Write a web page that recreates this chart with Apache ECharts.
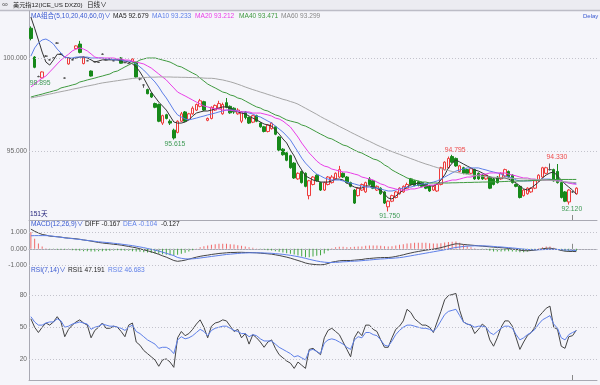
<!DOCTYPE html>
<html><head><meta charset="utf-8">
<script src="https://cdn.jsdelivr.net/npm/echarts@6/dist/echarts.min.js"></script>
<style>html,body{margin:0;padding:0;background:#f5f5fa;}#c{width:600px;height:385px;}</style>
</head><body><div id="c"></div>
<script>
const categories = Array.from({length:151},(_, i)=>'D'+(i+1));
// [open, close, low, high]
const candles = [
[101.6,101.05,100.95,101.7],[100.05,99.5,99.45,100.1],[99.0,99.0,98.97,99.05],[98.93,99.25,98.895,99.28],[100.1,100.1,100.06,100.15],
[99.9,99.9,99.87,99.95],[100.0,100.0,99.95,100.03],[100.8,100.8,100.77,100.85],[100.2,100.2,100.17,100.25],[98.92,98.92,98.9,98.95],
[99.68,100.0,99.64,100.04],[99.9,99.9,99.88,99.95],[100.5,100.65,100.47,100.68],[100.75,100.3,100.25,100.92],[99.7,100.05,99.66,100.08],
[99.85,99.85,99.83,99.9],[99.3,99.03,99.0,99.33],[99.8,99.8,99.78,99.84],[99.76,99.76,99.74,99.8],[100.2,100.2,100.18,100.25],
[99.9,99.9,99.88,99.95],[99.95,99.95,99.93,100.0],[99.85,99.85,99.83,99.9],[99.91,99.91,99.89,99.95],[100.0,99.72,99.7,100.05],
[99.75,99.75,99.73,99.8],[99.7,99.7,99.68,99.75],[99.8,99.95,99.78,99.98],[99.75,98.98,98.95,99.78],[98.88,98.88,98.8,98.95],
[98.55,98.55,98.4,98.58],[98.3,98.08,98.05,98.35],[98.1,97.9,97.85,98.12],[97.55,97.35,97.3,97.6],[97.5,96.6,96.55,97.55],
[96.5,96.9,96.4,96.95],[96.95,96.75,96.7,97.0],[96.6,96.5,96.4,96.7],[96.12,95.7,95.615,96.2],[96.0,96.6,95.95,96.65],
[96.6,97.0,96.55,97.1],[97.1,96.6,96.55,97.15],[96.7,97.0,96.65,97.05],[97.0,97.3,96.95,97.4],[97.2,97.5,97.15,97.55],
[97.4,97.7,97.35,97.8],[97.65,97.2,97.15,97.7],[96.65,96.75,96.6,96.8],[96.75,97.35,96.7,97.4],[97.2,97.45,97.15,97.5],
[97.3,97.55,97.25,97.7],[97.0,97.5,96.95,97.6],[97.6,97.35,97.3,97.85],[97.4,97.05,97.0,97.45],[97.3,97.1,97.0,97.35],
[97.0,97.2,96.95,97.3],[96.6,97.1,96.5,97.15],[97.1,96.8,96.7,97.15],[96.8,96.5,96.45,96.85],[96.55,96.9,96.5,96.95],
[96.9,96.6,96.55,96.95],[96.5,96.3,96.25,96.55],[96.3,96.05,96.0,96.35],[96.05,96.4,96.0,96.45],[96.2,96.5,96.15,96.55],
[96.3,95.9,95.85,96.35],[95.75,95.05,95.0,95.8],[95.1,94.8,94.75,95.15],[94.9,94.5,94.45,94.95],[94.75,94.1,94.05,94.8],
[94.35,93.55,93.5,94.4],[93.5,93.8,93.45,93.85],[93.9,93.3,93.25,93.95],[93.8,93.1,93.05,93.85],[92.6,93.4,92.4,93.45],
[93.2,93.6,93.15,93.65],[93.7,93.4,93.35,93.75],[93.3,92.9,92.85,93.35],[92.9,93.3,92.85,93.35],[93.2,93.6,93.15,93.65],
[93.3,93.6,93.25,93.7],[93.5,93.8,93.45,93.85],[93.6,94.0,93.55,94.2],[93.8,93.6,93.55,93.85],[93.6,93.3,93.25,93.65],
[93.3,93.1,93.05,93.35],[92.9,92.2,92.15,92.95],[92.6,93.0,92.55,93.05],[92.9,93.2,92.85,93.25],[92.8,93.3,92.75,93.35],
[93.5,93.2,93.15,93.6],[93.4,93.0,92.95,93.45],[92.9,93.1,92.85,93.15],[93.0,92.7,92.65,93.05],[92.8,92.2,92.15,92.85],
[92.0,92.3,91.75,92.35],[92.3,92.6,92.25,92.65],[92.5,92.8,92.45,92.85],[92.7,93.0,92.65,93.05],[92.8,93.1,92.75,93.15],
[93.0,93.2,92.95,93.3],[93.5,93.2,93.15,93.55],[93.4,93.15,93.1,93.45],[93.35,93.15,93.1,93.4],[93.3,93.1,93.05,93.35],
[93.2,93.0,92.95,93.25],[93.1,92.85,92.8,93.15],[92.9,93.1,92.85,93.15],[92.85,93.2,92.8,93.25],[93.2,94.1,93.15,94.15],
[94.0,94.4,93.95,94.45],[94.1,94.6,94.05,94.7],[94.7,94.4,94.35,94.795],[94.6,94.2,94.15,94.65],[93.9,94.2,93.85,94.25],
[94.1,93.8,93.75,94.15],[94.0,93.8,93.75,94.05],[93.8,94.05,93.75,94.1],[94.0,93.5,93.45,94.05],[93.8,93.5,93.45,93.85],
[93.7,93.5,93.45,93.75],[93.5,93.7,93.45,93.75],[93.6,93.0,92.95,93.65],[93.5,93.2,93.15,93.55],[93.6,93.3,93.25,93.65],
[93.5,93.8,93.45,93.85],[93.65,94.0,93.6,94.05],[93.9,93.6,93.55,93.95],[93.7,93.3,93.25,93.75],[93.2,93.1,93.05,93.25],
[93.1,92.5,92.45,93.15],[92.6,92.9,92.55,92.95],[92.7,93.0,92.65,93.05],[92.8,93.0,92.75,93.05],[93.0,93.4,92.95,93.45],
[93.4,93.7,93.35,93.75],[93.6,94.1,93.55,94.15],[93.8,94.1,93.75,94.15],[94.0,94.0,93.95,94.33],[94.0,93.4,93.35,94.05],
[93.9,93.3,93.25,94.3],[93.3,92.5,92.45,93.35],[92.8,92.3,92.25,92.85],[92.26,92.9,92.12,92.95],[92.8,92.8,92.75,92.85],
[92.7,93.0,92.65,93.05]
];
const ma5 = [102.2,101.6,100.97,100.32,99.78,99.62,99.89,100.2,100.2,100.05,
100.0,99.95,100.0,100.05,100.05,100.0,99.9,99.78,99.84,99.9,
99.9,99.9,99.9,99.9,99.84,99.84,99.78,99.68,99.52,99.25,
98.92,98.55,98.17,97.9,97.63,97.42,97.2,96.88,96.56,96.5,
96.5,96.56,96.67,96.88,97.04,97.1,97.15,97.15,97.2,97.26,
97.31,97.37,97.37,97.31,97.2,97.1,97.04,96.99,96.88,96.77,
96.67,96.56,96.45,96.4,96.34,96.13,95.91,95.65,95.43,95.05,
94.73,94.3,93.98,93.66,93.55,93.44,93.39,93.33,93.33,93.33,
93.39,93.49,93.49,93.44,93.28,93.17,93.06,93.01,93.01,93.12,
93.12,93.06,93.01,92.9,92.69,92.47,92.42,92.58,92.74,92.9,
93.06,93.17,93.23,93.28,93.23,93.17,93.12,93.12,93.23,93.44,
93.71,94.09,94.35,94.52,94.41,94.3,94.19,94.09,93.98,93.92,
93.82,93.71,93.6,93.55,93.55,93.55,93.55,93.49,93.39,93.28,
93.12,92.96,92.9,93.01,93.17,93.33,93.55,93.71,93.82,93.87,
93.66,93.44,93.23,93.06,92.9,92.679];
const ma10 = [100.1,100.54,100.81,100.97,101.02,100.91,100.75,100.48,100.27,100.05,
100.0,100.0,100.05,100.05,100.05,100.05,100.0,100.0,100.0,100.0,
99.95,99.95,99.9,99.9,99.9,99.84,99.84,99.78,99.68,99.52,
99.35,99.14,98.92,98.71,98.44,98.12,97.85,97.53,97.2,96.94,
96.83,96.72,96.67,96.72,96.77,96.83,96.88,96.94,96.99,97.04,
97.1,97.15,97.2,97.2,97.2,97.15,97.1,97.1,97.04,96.99,
96.88,96.83,96.72,96.61,96.51,96.34,96.18,96.02,95.81,95.59,
95.27,94.95,94.62,94.35,94.14,93.92,93.76,93.66,93.55,93.49,
93.44,93.44,93.44,93.39,93.33,93.28,93.23,93.17,93.12,93.06,
93.06,93.01,93.01,92.96,92.9,92.85,92.85,92.9,92.96,93.01,
93.06,93.06,93.12,93.17,93.23,93.23,93.28,93.33,93.39,93.49,
93.6,93.71,93.82,93.92,93.98,94.03,94.09,94.09,94.09,94.09,
94.03,93.98,93.92,93.87,93.82,93.76,93.66,93.6,93.55,93.44,
93.39,93.39,93.39,93.39,93.44,93.44,93.49,93.49,93.49,93.44,
93.44,93.39,93.33,93.28,93.28,93.233];
const ma20 = [98.44,98.6,98.76,98.92,99.03,99.25,99.46,99.68,99.89,100.05,
100.2,100.38,100.48,100.54,100.48,100.38,100.22,100.05,100.0,100.0,
100.0,100.0,100.0,99.95,99.95,99.89,99.89,99.84,99.78,99.73,
99.68,99.57,99.46,99.3,99.14,98.98,98.82,98.6,98.39,98.17,
98.06,97.96,97.85,97.74,97.63,97.53,97.42,97.37,97.31,97.26,
97.26,97.2,97.2,97.2,97.15,97.15,97.1,97.1,97.1,97.04,
97.04,97.04,96.99,96.94,96.88,96.77,96.72,96.61,96.45,96.29,
96.02,95.75,95.43,95.16,94.89,94.68,94.46,94.3,94.19,94.14,
94.03,93.98,93.92,93.87,93.87,93.82,93.76,93.71,93.6,93.55,
93.49,93.44,93.33,93.23,93.17,93.06,93.01,92.96,92.9,92.9,
92.9,92.96,92.96,93.01,93.06,93.12,93.17,93.17,93.23,93.28,
93.33,93.39,93.44,93.44,93.49,93.55,93.6,93.6,93.66,93.71,
93.76,93.76,93.82,93.82,93.82,93.82,93.82,93.76,93.71,93.66,
93.6,93.55,93.55,93.49,93.49,93.44,93.44,93.44,93.44,93.44,
93.39,93.39,93.33,93.28,93.23,93.212];
const ma40 = [97.9,97.96,98.01,98.06,98.12,98.17,98.23,98.28,98.39,98.44,
98.49,98.55,98.6,98.71,98.76,98.82,98.87,98.92,98.98,99.03,
99.09,99.14,99.25,99.3,99.41,99.52,99.62,99.73,99.78,99.89,
99.95,100.0,100.0,100.0,99.95,99.89,99.84,99.78,99.68,99.57,
99.52,99.41,99.3,99.19,99.09,98.92,98.76,98.6,98.49,98.39,
98.28,98.17,98.12,98.01,97.96,97.85,97.8,97.69,97.58,97.47,
97.37,97.31,97.2,97.15,97.04,96.94,96.88,96.77,96.67,96.61,
96.56,96.51,96.4,96.34,96.24,96.13,96.02,95.91,95.81,95.7,
95.65,95.54,95.43,95.32,95.27,95.16,95.05,94.95,94.89,94.78,
94.68,94.57,94.52,94.41,94.25,94.14,93.98,93.87,93.76,93.66,
93.55,93.49,93.44,93.39,93.33,93.33,93.28,93.28,93.28,93.28,
93.28,93.28,93.29,93.29,93.3,93.3,93.31,93.31,93.32,93.32,
93.33,93.33,93.34,93.34,93.35,93.35,93.36,93.37,93.38,93.38,
93.39,93.39,93.4,93.41,93.42,93.43,93.44,93.45,93.46,93.46,
93.47,93.47,93.47,93.47,93.47,93.471];
const ma60 = [97.85,97.89,97.93,97.97,98.02,98.06,98.1,98.15,98.19,98.23,
98.27,98.32,98.36,98.4,98.45,98.49,98.53,98.57,98.62,98.66,
98.69,98.72,98.75,98.78,98.81,98.84,98.87,98.9,98.92,98.93,
98.95,98.96,98.97,98.97,98.98,98.98,98.98,98.98,98.97,98.97,
98.96,98.96,98.95,98.95,98.94,98.94,98.92,98.91,98.91,98.89,
98.85,98.82,98.77,98.72,98.66,98.59,98.52,98.44,98.37,98.3,
98.24,98.17,98.11,98.04,97.98,97.91,97.85,97.78,97.73,97.66,
97.6,97.52,97.41,97.3,97.19,97.08,96.97,96.85,96.74,96.64,
96.53,96.43,96.32,96.22,96.12,96.01,95.91,95.81,95.71,95.61,
95.52,95.42,95.32,95.23,95.14,95.05,94.97,94.89,94.82,94.74,
94.67,94.59,94.52,94.44,94.37,94.3,94.24,94.17,94.11,94.05,
94.0,93.95,93.9,93.86,93.82,93.78,93.75,93.71,93.69,93.66,
93.64,93.62,93.6,93.59,93.57,93.56,93.55,93.54,93.53,93.52,
93.51,93.5,93.49,93.48,93.47,93.46,93.45,93.44,93.42,93.4,
93.39,93.37,93.35,93.33,93.31,93.299];
const diff = [1.18,1.05,0.95,0.86,0.82,0.76,0.74,0.72,0.7,0.66,
0.64,0.62,0.6,0.57,0.53,0.5,0.46,0.42,0.38,0.35,
0.32,0.3,0.27,0.25,0.22,0.18,0.14,0.1,0.06,0.0,
-0.06,-0.12,-0.18,-0.25,-0.33,-0.42,-0.5,-0.6,-0.7,-0.75,
-0.72,-0.68,-0.62,-0.56,-0.5,-0.45,-0.41,-0.38,-0.34,-0.31,
-0.28,-0.26,-0.24,-0.22,-0.22,-0.21,-0.21,-0.22,-0.22,-0.23,
-0.24,-0.26,-0.28,-0.3,-0.32,-0.36,-0.4,-0.45,-0.5,-0.56,
-0.63,-0.7,-0.77,-0.85,-0.9,-0.93,-0.95,-0.96,-0.94,-0.88,
-0.8,-0.76,-0.72,-0.7,-0.7,-0.7,-0.68,-0.66,-0.64,-0.6,
-0.58,-0.56,-0.54,-0.53,-0.52,-0.52,-0.5,-0.46,-0.41,-0.36,
-0.3,-0.25,-0.2,-0.16,-0.12,-0.08,-0.05,-0.02,0.02,0.07,
0.13,0.19,0.25,0.3,0.29,0.26,0.24,0.22,0.2,0.18,
0.16,0.14,0.12,0.1,0.08,0.07,0.05,0.02,-0.01,-0.03,
-0.08,-0.11,-0.12,-0.1,-0.08,-0.04,0.0,0.03,0.04,0.0,
-0.04,-0.1,-0.14,-0.16,-0.16,-0.167];
const dea = [0.78,0.79,0.79,0.79,0.79,0.78,0.75,0.72,0.69,0.66,
0.63,0.61,0.58,0.56,0.53,0.5,0.48,0.45,0.42,0.4,
0.38,0.36,0.33,0.31,0.28,0.25,0.22,0.19,0.15,0.11,
0.07,0.02,-0.03,-0.08,-0.14,-0.2,-0.27,-0.34,-0.41,-0.52,
-0.57,-0.6,-0.61,-0.6,-0.58,-0.55,-0.52,-0.49,-0.46,-0.43,
-0.4,-0.37,-0.34,-0.32,-0.3,-0.28,-0.26,-0.25,-0.24,-0.24,
-0.24,-0.24,-0.25,-0.26,-0.27,-0.29,-0.31,-0.33,-0.36,-0.39,
-0.43,-0.47,-0.52,-0.57,-0.63,-0.68,-0.73,-0.77,-0.8,-0.82,
-0.82,-0.81,-0.8,-0.78,-0.77,-0.75,-0.74,-0.73,-0.71,-0.69,
-0.67,-0.65,-0.63,-0.61,-0.6,-0.58,-0.57,-0.55,-0.53,-0.5,
-0.46,-0.42,-0.38,-0.34,-0.3,-0.26,-0.22,-0.18,-0.14,-0.1,
-0.06,-0.01,0.04,0.08,0.11,0.14,0.16,0.17,0.18,0.18,
0.18,0.17,0.16,0.14,0.12,0.11,0.09,0.07,0.05,0.03,
0.0,-0.02,-0.04,-0.05,-0.06,-0.06,-0.05,-0.04,-0.03,-0.03,
-0.04,-0.05,-0.07,-0.08,-0.09,-0.104];
const macdBar = [1.0,0.6,0.32,0.14,0.04,-0.03,-0.04,-0.05,-0.04,-0.06,
-0.06,-0.08,-0.1,-0.12,-0.14,-0.15,-0.16,-0.16,-0.15,-0.14,
-0.13,-0.12,-0.1,-0.09,-0.1,-0.11,-0.12,-0.14,-0.16,-0.18,
-0.2,-0.22,-0.25,-0.28,-0.3,-0.33,-0.36,-0.38,-0.4,-0.36,
-0.3,-0.24,-0.16,-0.08,0.02,0.1,0.16,0.2,0.24,0.28,
0.3,0.3,0.3,0.28,0.26,0.22,0.18,0.14,0.1,0.06,
0.02,-0.04,-0.06,-0.08,-0.1,-0.14,-0.18,-0.22,-0.26,-0.3,
-0.34,-0.4,-0.46,-0.5,-0.5,-0.46,-0.42,-0.38,-0.28,-0.12,
0.04,0.1,0.12,0.12,0.1,0.1,0.12,0.14,0.14,0.18,
0.2,0.2,0.2,0.18,0.16,0.14,0.16,0.2,0.24,0.28,
0.32,0.34,0.36,0.36,0.36,0.36,0.34,0.32,0.32,0.34,
0.38,0.4,0.42,0.44,0.36,0.24,0.16,0.1,0.04,0.0,
-0.04,-0.06,-0.12,-0.16,-0.16,-0.16,-0.14,-0.14,-0.16,-0.18,
-0.2,-0.2,-0.16,-0.1,-0.04,0.04,0.1,0.14,0.14,0.06,
0.0,-0.1,-0.14,-0.16,-0.14,-0.127];
const rsi1 = [58,50,45,50,54,52,55,60,55,41,
48,52,55,57,54,52,40,47,50,54,
49,49,51,50,46,41,52,54,36,33,
28,25,22,19,13,19,20,17,12,40,
46,42,44,48,53,57,50,40,51,54,
55,57,56,51,46,48,40,44,34,43,
40,36,31,36,38,30,24,21,18,16,
11,17,14,11,29,30,27,24,40,47,
49,46,43,36,29,22,40,46,42,52,
52,48,46,38,31,31,40,48,51,56,
67,64,58,55,52,52,50,45,55,65,
76,80,81,82,66,55,53,52,44,48,
53,50,38,32,40,50,56,56,51,40,
29,36,42,45,50,60,64,68,70,50,
48,32,30,41,42,47.191];
const rsi2 = [60,55,52,52,54,55,55,58,56,50,
51,53,54,55,54,53,48,50,51,53,
52,51,51,50,49,47,50,52,46,44,
41,38,36,34,30,31,31,29,25,38,
41,39,40,42,45,48,46,42,47,49,
50,51,51,49,47,46,44,44,41,43,
42,39,37,37,37,34,31,29,27,25,
22,23,21,19,28,29,27,25,35,38,
39,38,36,34,31,29,38,41,40,45,
45,43,42,38,33,32,37,43,47,50,
52,52,51,50,49,49,48,46,50,56,
62,65,66,67,61,55,53,52,50,51,
51,50,45,43,46,49,51,51,49,43,
38,40,43,45,48,53,57,59,61,53,
49,40,38,43,45,46.683];
const priceTicks = [100, 95];
const macdTicks = [1, 0, -1];
const rsiTicks = [80, 50, 20];
// extremes labelled on chart: [index, 'low'|'high']
const extremes = [[3,'low'],[38,'low'],[95,'low'],[143,'low'],[112,'high'],[138,'high']];

const BG = '#f5f5fa', AX = '#a9a9b3';
const FONT = "'Liberation Sans','Noto Sans CJK SC',sans-serif";
const FS = '6.6px ';
const RED = '#ee3b3b', GREEN = '#17891a', LBLG = '#3e9a55', LBLR = '#ee4b4b';
const C5 = '#333333', C10 = '#5d7fe8', C20 = '#ea3ee8', C40 = '#3f9a3f', C60 = '#a6a6a6';
const last = a => a[a.length-1];
const f3 = v => v.toFixed(3);

const chart = echarts.init(document.getElementById('c'), null, {width:600, height:385});
const grids = [
  {left:29, right:3, top:11, height:209},
  {left:29, right:3, top:220, height:45.5},
  {left:29, right:3, top:265.5, height:114.5}
];
const xAxes = grids.map((g, i) => ({
  type:'category', gridIndex:i, data:categories, boundaryGap:true,
  axisLabel:{show:false}, splitLine:{show:false},
  axisLine:{show:true, lineStyle:{color:AX, width:1}},
  axisTick:{show:true, inside:true, length:5, alignWithLabel:true, interval:(idx)=>idx===144, lineStyle:{color:'#888'}}
}));
const yRanges = [[91.29, 102.527], [-1, 1.725], [0, 108.5]];
const yAxes = yRanges.map((r, i) => ({
  type:'value', gridIndex:i, min:r[0], max:r[1], scale:true,
  axisLabel:{show:false}, splitLine:{show:false}, axisTick:{show:false},
  axisLine:{show:true, lineStyle:{color:AX, width:1}}
}));
const gridMark = (vals, fmt) => ({
  silent:true, symbol:['none','none'], animation:false,
  data: vals.map(v => ({yAxis:v})),
  lineStyle:{type:[1,2], color:'#c3c3cc', width:1},
  label:{show:true, position:'start', distance:2, formatter:p => fmt(p.value), color:'#666', fontSize:6.6, fontFamily:FONT}
});
const line = (name, data, color, gi, mark) => ({
  type:'line', name, data, xAxisIndex:gi, yAxisIndex:gi, symbol:'none', showSymbol:false,
  lineStyle:{color, width:1}, itemStyle:{color}, silent:true, z:3, markLine:mark
});

const markData = extremes.map(([i, kind]) => {
  const v = kind === 'low' ? candles[i][2] : candles[i][3];
  const offs = {3:[-2,0], 38:[1,0], 95:[1.5,0], 143:[3,0], 112:[3,0], 138:[7,-1]};
  return {coord:[categories[i], v], value:v,
    label:{position: kind==='low' ? 'bottom' : 'top', distance:1, offset:offs[i], color: kind==='low' ? LBLG : LBLR}};
});

const txt = (x, y, text, fill, size) => ({type:'text', x, y, silent:true,
  style:{text, fill, font:(size||FS)+FONT, verticalAlign:'middle'}});

const option = {
  animation:false,
  backgroundColor:BG,
  grid:grids, xAxis:xAxes, yAxis:yAxes,
  series:[
    {type:'candlestick', data:candles, xAxisIndex:0, yAxisIndex:0, barWidth:3, silent:true, z:2,
      itemStyle:{color:BG, color0:GREEN, borderColor:RED, borderColor0:GREEN, borderColorDoji:'#555', borderWidth:1},
      markPoint:{symbol:'circle', symbolSize:1, itemStyle:{color:'rgba(0,0,0,0)'}, silent:true, animation:false,
        label:{show:true, formatter:p => f3(p.value), fontSize:6.8, fontFamily:FONT}, data:markData},
      markLine: gridMark(priceTicks, f3)
    },
    line('MA5', ma5, C5, 0),
    line('MA10', ma10, C10, 0),
    line('MA20', ma20, C20, 0),
    line('MA40', ma40, C40, 0),
    line('MA60', ma60, C60, 0),
    {type:'bar', data:macdBar, xAxisIndex:1, yAxisIndex:1, barWidth:1, silent:true,
      itemStyle:{color: p => p.value >= 0 ? '#f06a6a' : '#43a743'}},
    line('DIFF', diff, '#444', 1, gridMark(macdTicks, f3)),
    line('DEA', dea, C10, 1),
    line('RSI1', rsi1, '#444', 2, gridMark(rsiTicks, v => String(v))),
    line('RSI2', rsi2, C10, 2)
  ],
  graphic:[
    {type:'rect', shape:{x:0, y:0, width:600, height:10}, style:{fill:'#ececf1'}, silent:true},
    {type:'line', shape:{x1:0, y1:10.5, x2:600, y2:10.5}, style:{stroke:'#bcbcc6', lineWidth:1.5}, silent:true},
    txt(2, 5, '∞', '#555', '8px '),
    txt(13, 5, '美元指12(ICE_US DXZ0)', '#222', '6.2px '),
    txt(87, 5, '日线∨', '#222', '6.6px '),
    txt(31, 16, 'MA组合(5,10,20,40,60,0)∨', '#3858d0'),
    txt(113, 16, 'MA5 '+f3(last(ma5)), '#222'),
    txt(152, 16, 'MA10 '+f3(last(ma10)), C10),
    txt(195, 16, 'MA20 '+f3(last(ma20)), C20),
    txt(239, 16, 'MA40 '+f3(last(ma40)), C40),
    txt(281, 16, 'MA60 '+f3(last(ma60)), '#888'),
    txt(583, 16, 'Delay', '#3858d0', '6px '),
    txt(30, 214, '151天', '#22227a'),
    txt(31, 224.5, 'MACD(12,26,9)∨', '#3858d0'),
    txt(85, 224.5, 'DIFF '+f3(last(diff)), '#222'),
    txt(123, 224.5, 'DEA '+f3(last(dea)), C10),
    txt(161, 224.5, f3(last(macdBar)), '#222'),
    txt(31, 270.5, 'RSI(7,14)∨', '#3858d0'),
    txt(68, 270.5, 'RSI1 '+f3(last(rsi1)), '#222'),
    txt(108, 270.5, 'RSI2 '+f3(last(rsi2)), C10)
  ]
};
chart.setOption(option);
</script>
</body></html>
